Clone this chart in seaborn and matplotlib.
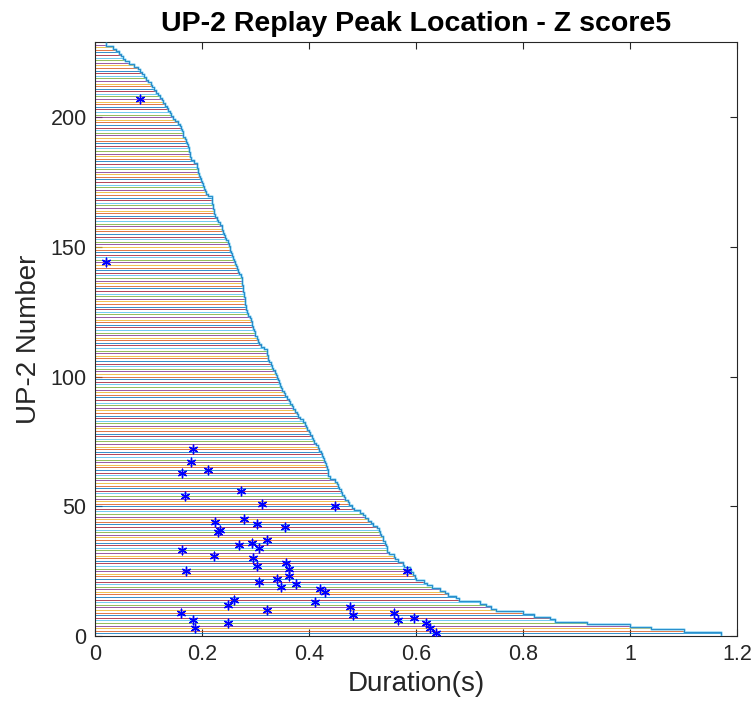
import numpy as np
import pandas as pd
import matplotlib
matplotlib.use("Agg")
import matplotlib.pyplot as plt
import seaborn as sns

# Durations (s) of each UP-2 event, row 1 (bottom) to row 228 (top)
durations = [
    1.17, 1.10, 1.04, 1.00, 0.92, 0.86, 0.85, 0.82, 0.80, 0.75,
    0.74, 0.73, 0.72, 0.68, 0.675, 0.66, 0.655, 0.645, 0.63, 0.62,
    0.615, 0.60, 0.598, 0.595, 0.59, 0.588, 0.578, 0.575, 0.567, 0.56,
    0.558, 0.55, 0.545, 0.545, 0.544, 0.542, 0.539, 0.538, 0.535, 0.533,
    0.530, 0.527, 0.52, 0.515, 0.51, 0.505, 0.50, 0.495, 0.485, 0.48,
    0.475, 0.472, 0.468, 0.465, 0.462, 0.46, 0.457, 0.455, 0.452, 0.448,
    0.44, 0.436, 0.436, 0.435, 0.434, 0.432, 0.430, 0.428, 0.426, 0.424,
    0.422, 0.419, 0.416, 0.413, 0.41, 0.408, 0.405, 0.402, 0.40, 0.397,
    0.395, 0.393, 0.389, 0.383, 0.38, 0.377, 0.374, 0.371, 0.368, 0.365,
    0.362, 0.359, 0.356, 0.353, 0.35, 0.348, 0.346, 0.344, 0.343, 0.341,
    0.339, 0.336, 0.333, 0.331, 0.329, 0.326, 0.323, 0.323, 0.322, 0.321,
    0.315, 0.310, 0.307, 0.305, 0.302, 0.300, 0.299, 0.297, 0.296, 0.294,
    0.293, 0.291, 0.290, 0.286, 0.284, 0.282, 0.282, 0.281, 0.281, 0.280,
    0.279, 0.278, 0.277, 0.277, 0.276, 0.275, 0.274, 0.274, 0.272, 0.270,
    0.268, 0.266, 0.264, 0.262, 0.260, 0.258, 0.256, 0.254, 0.253, 0.252,
    0.250, 0.248, 0.245, 0.243, 0.241, 0.239, 0.238, 0.237, 0.233, 0.230,
    0.228, 0.225, 0.223, 0.222, 0.221, 0.220, 0.219, 0.219, 0.218, 0.212,
    0.208, 0.205, 0.203, 0.202, 0.200, 0.198, 0.196, 0.194, 0.193, 0.192,
    0.191, 0.190, 0.185, 0.180, 0.178, 0.177, 0.176, 0.175, 0.174, 0.172,
    0.170, 0.168, 0.165, 0.164, 0.163, 0.161, 0.159, 0.155, 0.150, 0.146,
    0.143, 0.140, 0.137, 0.134, 0.131, 0.128, 0.125, 0.122, 0.118, 0.114,
    0.110, 0.107, 0.104, 0.100, 0.096, 0.092, 0.088, 0.084, 0.081, 0.072,
    0.064, 0.057, 0.053, 0.048, 0.044, 0.040, 0.034, 0.020,
]

# Replay peak locations (s) and the UP-2 row they belong to
peak_x = [0.085, 0.020, 0.184, 0.179, 0.211, 0.163, 0.273, 0.168, 0.312, 0.449,
          0.225, 0.279, 0.302, 0.356, 0.234, 0.230, 0.322, 0.269, 0.293, 0.306,
          0.163, 0.222, 0.296, 0.357, 0.302, 0.363, 0.171, 0.584, 0.363, 0.306,
          0.340, 0.376, 0.348, 0.421, 0.429, 0.259, 0.249, 0.411, 0.322, 0.477,
          0.482, 0.161, 0.559, 0.184, 0.249, 0.567, 0.596, 0.619, 0.626, 0.187,
          0.637]
peak_row = [207, 144, 72, 67, 64, 63, 56, 54, 51, 50,
            44, 45, 43, 42, 41, 40, 37, 35, 36, 34,
            33, 31, 30, 28, 27, 26, 25, 25, 23, 21,
            22, 20, 19, 18, 17, 14, 12, 13, 10, 11,
            8, 9, 9, 6, 5, 6, 7, 5, 3, 3,
            1]

x_ticks = [0, 0.2, 0.4, 0.6, 0.8, 1.0, 1.2]
x_tick_labels = ["0", "0.2", "0.4", "0.6", "0.8", "1", "1.2"]
y_ticks = [0, 50, 100, 150, 200]

matlab_colors = ["#0072BD", "#D95319", "#EDB120", "#7E2F8E",
                 "#77AC30", "#4DBEEE", "#A2142F"]

sns.set_style("ticks")
plt.rcParams["font.family"] = ["Liberation Sans", "DejaVu Sans"]

rows = np.arange(1, len(durations) + 1)
dur = np.array(durations)

df = pd.DataFrame({
    "x": np.concatenate([np.zeros(len(dur)), dur]),
    "y": np.concatenate([rows, rows]),
    "row": np.concatenate([rows, rows]),
})
palette = {r: matlab_colors[(r - 1) % 7] for r in rows}

fig = plt.figure(figsize=(7.55, 7.17), dpi=100)
ax = fig.add_axes([0.1258, 0.1130, 0.9762 - 0.1258, 0.9414 - 0.1130])

sns.lineplot(data=df, x="x", y="y", hue="row", units="row", estimator=None,
             palette=palette, legend=False, linewidth=0.7, alpha=0.8, ax=ax,
             sort=False)

# staircase outline along the right ends
xs = np.repeat(dur, 2)
ys = np.column_stack([rows - 0.5, rows + 0.5]).ravel()
ax.plot(xs, ys, color="#4DBEEE", lw=1.8, alpha=0.6, zorder=3)
ax.plot(xs, ys, color="#0072BD", lw=0.6, alpha=0.85, zorder=3)

pk = pd.DataFrame({"x": peak_x, "y": peak_row})
sns.scatterplot(data=pk, x="x", y="y", ax=ax, marker=(6, 2, 0), s=38,
                color="#0000FF", linewidth=1.0, edgecolor="#0000FF", zorder=5)

ax.set_xlim(0, 1.2)
ax.set_ylim(0, 229)
ax.set_xticks(x_ticks)
ax.set_xticklabels(x_tick_labels)
ax.set_yticks(y_ticks)
ax.tick_params(direction="in", length=5, width=0.8, top=True, right=True,
               labelsize=15.5, colors="#262626", pad=6)
for s in ax.spines.values():
    s.set_color("#262626")
    s.set_linewidth(0.8)
ax.set_xlabel("Duration(s)", fontsize=20, color="#262626", labelpad=4)
ax.set_ylabel("UP-2 Number", fontsize=20, color="#262626", labelpad=6)
ax.set_title("UP-2 Replay Peak Location - Z score5", fontsize=20.5,
             fontweight="bold", color="black", pad=8)

fig.savefig("out.png", dpi=100)
